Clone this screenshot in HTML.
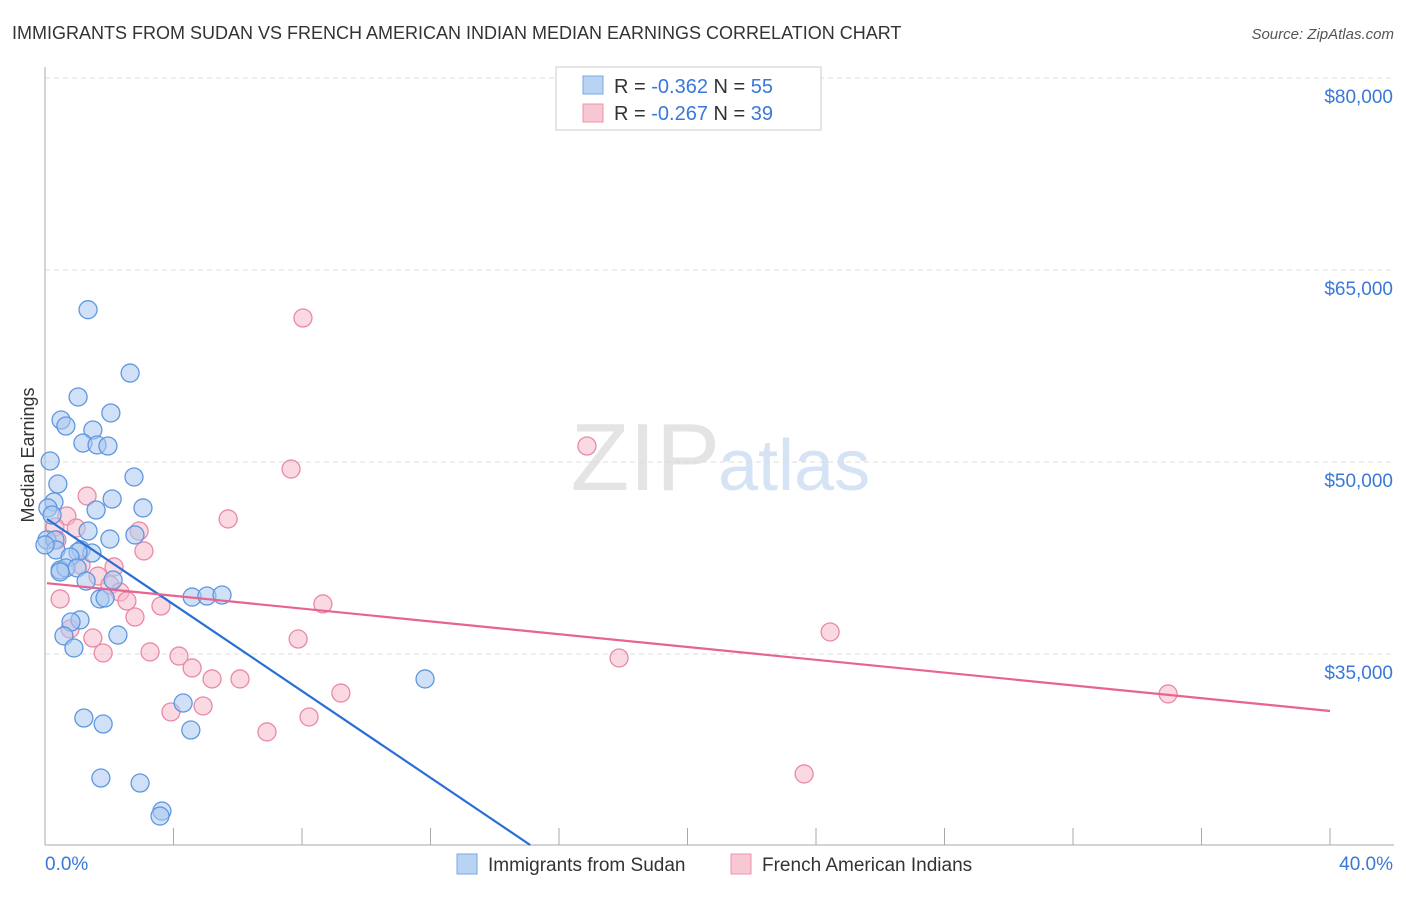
<!DOCTYPE html>
<html><head><meta charset="utf-8"><style>
body{margin:0;background:#fff;font-family:"Liberation Sans",sans-serif;}
svg text{font-family:"Liberation Sans",sans-serif;}
</style></head><body>
<svg id="chart" width="1406" height="892">
<text x="12" y="39" font-size="18" fill="#333">IMMIGRANTS FROM SUDAN VS FRENCH AMERICAN INDIAN MEDIAN EARNINGS CORRELATION CHART</text>
<text x="1394" y="39" font-size="15" fill="#555" font-style="italic" text-anchor="end">Source: ZipAtlas.com</text>
<text x="720" y="490" font-size="96" fill="#e4e4e4" text-anchor="end" font-family="Liberation Serif">ZIP</text>
<text x="718" y="490" font-size="72" fill="#d5e3f5">atlas</text>
<g id="grid"></g>
<g id="axes"></g>
<g id="points"></g>
<g id="trends"></g>
<text transform="translate(34,455) rotate(-90)" font-size="18" fill="#333" text-anchor="middle">Median Earnings</text>
<g>
<rect x="556" y="67" width="265" height="63" fill="#fff" stroke="#ccc"/>
<rect x="583" y="76" width="20" height="18" fill="#b9d3f5" stroke="#7aa7e3"/>
<text x="614" y="93" font-size="20" fill="#333">R = <tspan fill="#3a78d8">-0.362</tspan>   N = <tspan fill="#3a78d8">55</tspan></text>
<rect x="583" y="104" width="20" height="18" fill="#f8c7d4" stroke="#ec93ab"/>
<text x="614" y="120" font-size="20" fill="#333">R = <tspan fill="#3a78d8">-0.267</tspan>   N = <tspan fill="#3a78d8">39</tspan></text>
</g>
<g>
<rect x="457" y="854" width="20" height="20" fill="#b9d3f5" stroke="#7aa7e3"/>
<text x="488" y="871" font-size="19" fill="#333">Immigrants from Sudan</text>
<rect x="731" y="854" width="20" height="20" fill="#f8c7d4" stroke="#ec93ab"/>
<text x="762" y="871" font-size="19" fill="#333">French American Indians</text>
</g>
</svg>
<script>
const yTicks=[35000,50000,65000,80000];
const yTickLabels=["$35,000","$50,000","$65,000","$80,000"];
const xTickLabels=["0.0%","40.0%"];
const blueX=[1.34,2.65,1.03,2.05,0.50,0.65,1.49,1.18,1.62,1.96,0.16,2.77,0.40,0.28,2.09,3.05,1.59,0.09,0.22,1.34,2.02,2.80,0.06,0.31,0.34,1.12,1.46,1.03,0.78,0.47,0.65,1.00,1.28,2.12,0.47,1.71,1.87,4.58,5.04,5.51,1.09,0.81,2.27,0.59,0.90,11.83,4.30,1.21,1.81,4.54,1.74,2.96,3.64,3.58,0];
const blueY=[61900,56950,55080,53830,53280,52810,52500,51480,51330,51250,50080,48830,48280,46880,47110,46410,46250,46410,45860,44610,43980,44300,43910,43910,43130,43130,42890,42970,42580,41560,41720,41720,40700,40780,41410,39300,39380,39450,39530,39610,37660,37500,36480,36410,35470,33050,31170,30000,29530,29060,25310,24920,22730,22340,43520];
const pinkX=[8.03,7.66,16.87,1.31,5.70,0.68,0.97,2.93,0.31,0.37,3.08,1.12,2.15,1.65,2.02,2.33,0.47,2.55,3.61,8.65,2.80,0.78,1.49,7.88,1.81,3.27,4.17,4.58,5.20,6.07,3.92,4.92,9.21,8.22,6.91,17.87,24.44,34.96,23.63];
const pinkY=[61250,49450,51250,47340,45550,45780,44840,44610,44920,43910,43050,41950,41800,41090,40390,39840,39300,39140,38750,38910,37890,36950,36250,36170,35080,35160,34840,33910,33050,33050,30470,30940,31950,30080,28910,34690,36720,31880,25630];
const blueTrend=[45650,-1693];
const pinkTrend=[40547,-250];
const NS="http://www.w3.org/2000/svg";
const X0=45,X1=1330,Y0=845;
function sx(v){return X0+(v/40)*(X1-X0);}
function sy(v){return 78+(80000-v)/1000*12.8;}
function mk(tag,attrs,parent){const e=document.createElementNS(NS,tag);for(const k in attrs)e.setAttribute(k,attrs[k]);document.getElementById(parent).appendChild(e);return e;}
yTicks.forEach((t,i)=>{
 const l=mk('line',{x1:X0,x2:1394,y1:sy(t),y2:sy(t),stroke:'#ddd','stroke-dasharray':'5,4'},'grid');
 
 
 const tx=mk('text',{x:1393,y:sy(t)+25,'font-size':19,fill:'#3a78d8','text-anchor':'end'},'grid');
 tx.textContent=yTickLabels[i];
 
 
});
const ya=mk('line',{x1:X0,x2:X0,y1:67,y2:Y0,stroke:'#aaa'},'axes');


const xa=mk('line',{x1:X0,x2:1394,y1:Y0,y2:Y0,stroke:'#aaa'},'axes');


for(let i=0;i<=10;i++){
 const t=mk('line',{x1:sx(i*4),x2:sx(i*4),y1:Y0,y2:Y0-17,stroke:'#aaa'},'axes');
 
 
}
[[0,'start',45],[40,'end',1393]].forEach((d,i)=>{
 const tx=mk('text',{x:d[2],y:870,'font-size':19,fill:'#3a78d8','text-anchor':d[1]},'axes');
 tx.textContent=xTickLabels[i];
 
 
});
function pts(xs,ys,fill,stroke,name){
 xs.forEach((x,i)=>{
  const c=mk('circle',{cx:sx(x),cy:sy(ys[i]),r:9,fill:fill,'fill-opacity':0.55,stroke:stroke,'stroke-width':1.3},'points');
  
  
 });
}
pts(pinkX,pinkY,'#f5b9ca','#e98aa5','pink-point');
pts(blueX,blueY,'#aac9f1','#5f97df','blue-point');
const bEnd=(20078-blueTrend[0])/blueTrend[1];
const bl=mk('line',{x1:sx(0.06),y1:sy(blueTrend[0]+blueTrend[1]*0.06),x2:sx(bEnd),y2:sy(blueTrend[0]+blueTrend[1]*bEnd),stroke:'#2a6fd6','stroke-width':2.2},'trends');


const pl=mk('line',{x1:sx(0.06),y1:sy(pinkTrend[0]+pinkTrend[1]*0.06),x2:sx(40),y2:sy(pinkTrend[0]+pinkTrend[1]*40),stroke:'#e8638f','stroke-width':2.2},'trends');


</script>
</body></html>
